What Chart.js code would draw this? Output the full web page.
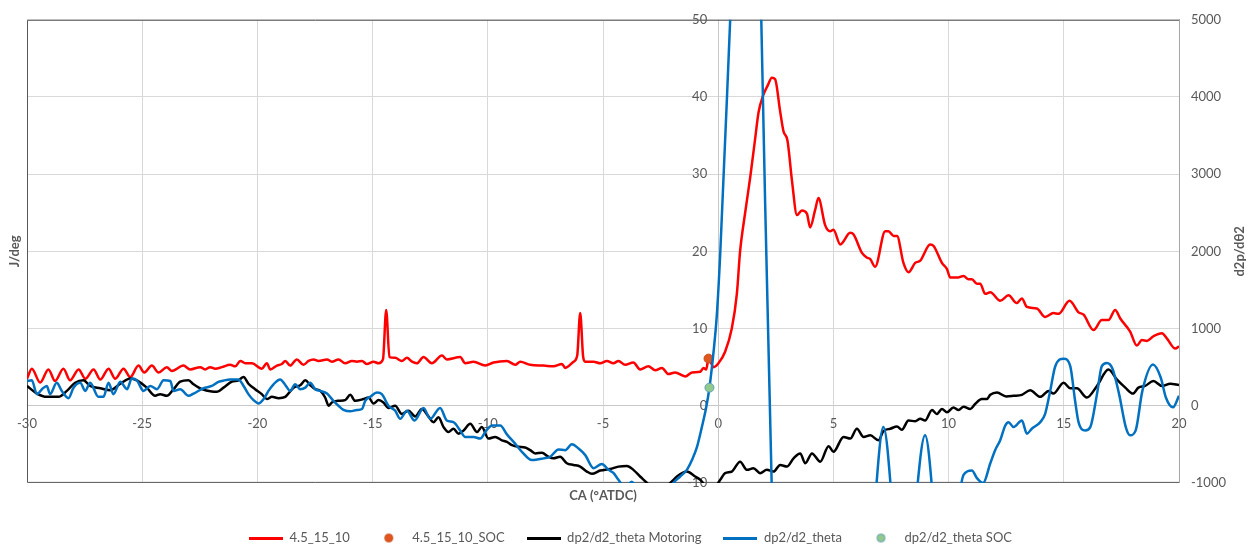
<!DOCTYPE html>
<html>
<head>
<meta charset="utf-8">
<title>Heat release and d2p/dθ2 vs crank angle</title>
<script src="https://cdn.jsdelivr.net/npm/chart.js@4.4.1/dist/chart.umd.min.js"></script>
<style>
  html, body { margin: 0; padding: 0; background: #ffffff; }
  #wrap { width: 1248px; height: 550px; }
</style>
</head>
<body>
<div id="wrap"><canvas id="chart" width="1248" height="550"></canvas></div>
<script>
// Crank angle (°ATDC) traces: apparent heat release rate on the left axis (J/deg),
// second pressure derivative on the right axis, plus start-of-combustion markers.

// Heat release rate, 4.5_15_10 (J/deg)
const heatX = [-30, -29.79, -29.43, -29.07, -28.78, -28.42, -28.13, -27.76, -27.47, -27.11, -26.82, -26.46, -26.17, -25.81, -25.52, -25.16, -24.91, -24.58, -24.29, -23.93, -23.71, -23.21, -22.92, -22.48, -22.27, -22.05, -21.83, -21.54, -21.18, -20.96, -20.74, -20.53, -20.24, -19.81, -19.59, -19.44, -19.15, -18.94, -18.79, -18.58, -18.29, -18.0, -17.78, -17.57, -17.35, -16.98, -16.77, -16.48, -16.19, -15.90, -15.68, -15.46, -15.25, -14.96, -14.74, -14.55, -14.41, -14.27, -14.02, -13.73, -13.51, -13.29, -13.08, -12.79, -12.43, -11.99, -11.78, -11.20, -10.98, -10.62, -10.11, -9.75, -9.17, -8.81, -8.59, -8.16, -7.58, -7.15, -6.78, -6.64, -6.28, -6.12, -5.99, -5.86, -5.77, -5.41, -5.12, -4.83, -4.55, -4.33, -4.04, -3.68, -3.39, -3.03, -2.73, -2.44, -2.16, -1.87, -1.43, -1.14, -0.78, -0.64, -0.52, -0.42, -0.20, 0.01, 0.30, 0.59, 0.81, 0.95, 1.17, 1.39, 1.60, 1.75, 1.95, 2.15, 2.33, 2.47, 2.69, 2.83, 3.01, 3.20, 3.42, 3.63, 3.85, 3.99, 4.21, 4.35, 4.64, 4.86, 5.00, 5.30, 5.73, 5.87, 6.24, 6.45, 6.60, 6.81, 7.25, 7.39, 7.61, 7.76, 8.04, 8.26, 8.55, 8.77, 9.20, 9.35, 9.71, 9.93, 10.07, 10.36, 10.65, 10.86, 11.01, 11.23, 11.37, 11.59, 11.81, 12.24, 12.60, 12.96, 13.18, 13.40, 13.83, 14.19, 14.55, 14.77, 15.25, 15.64, 15.86, 16.29, 16.65, 16.94, 17.23, 17.45, 17.88, 18.17, 18.39, 18.61, 18.89, 19.26, 19.48, 19.84, 20.0];
const heatY = [3.5, 4.8, 3.0, 4.7, 3.2, 4.8, 3.3, 4.7, 3.5, 4.7, 3.4, 4.8, 3.5, 4.8, 3.7, 5.2, 4.3, 5.2, 4.3, 5.0, 4.5, 5.2, 4.7, 5.0, 4.7, 5.0, 4.8, 5.0, 5.3, 5.1, 5.8, 5.5, 5.5, 4.8, 5.5, 4.7, 5.2, 5.4, 5.8, 5.2, 6.0, 5.3, 5.8, 6.0, 5.8, 6.0, 5.7, 6.0, 5.5, 5.8, 5.7, 5.8, 5.4, 5.7, 5.5, 6.0, 12.4, 6.3, 6.2, 5.8, 6.2, 5.7, 5.5, 6.3, 5.5, 6.5, 6.0, 6.3, 5.5, 5.7, 5.2, 5.6, 5.8, 5.3, 5.7, 5.3, 5.2, 5.1, 5.4, 4.9, 5.7, 6.5, 12.0, 6.3, 5.7, 5.7, 5.5, 5.8, 5.5, 5.8, 5.3, 5.6, 4.7, 5.1, 4.6, 4.9, 4.1, 4.3, 3.8, 4.3, 4.4, 4.9, 4.7, 6.1, 5.0, 5.5, 7.0, 10.0, 14.5, 20.0, 25.0, 29.6, 34.5, 38.0, 40.2, 41.5, 42.5, 42.3, 38.1, 35.6, 34.3, 29.2, 24.7, 25.3, 24.9, 23.1, 25.4, 26.9, 23.4, 22.6, 22.8, 20.9, 22.4, 22.2, 19.8, 19.2, 19.0, 18.0, 22.6, 22.6, 22.0, 22.0, 18.5, 17.3, 18.5, 18.8, 20.9, 20.7, 18.5, 17.7, 16.6, 16.6, 16.8, 16.4, 16.4, 15.8, 15.8, 14.5, 14.7, 13.6, 14.3, 13.3, 13.9, 12.8, 12.6, 11.5, 12.0, 11.9, 13.6, 12.1, 11.8, 9.8, 11.1, 11.1, 12.4, 11.3, 9.6, 7.8, 8.5, 8.4, 9.0, 9.4, 8.7, 7.4, 7.7];

// Start of combustion on the heat release trace
const heatSocX = [-0.42];
const heatSocY = [6.1];

// Motoring d2p/dθ2
const motorX = [-30, -29.57, -29.14, -28.63, -28.27, -27.91, -27.55, -27.26, -26.82, -26.39, -25.95, -25.52, -25.23, -24.80, -24.44, -24.22, -23.93, -23.64, -23.35, -22.99, -22.77, -22.41, -21.98, -21.75, -21.47, -21.11, -20.82, -20.60, -20.39, -20.10, -19.81, -19.59, -19.37, -19.08, -18.79, -18.43, -18.14, -17.92, -17.71, -17.49, -17.27, -17.06, -16.91, -16.77, -16.48, -16.19, -15.97, -15.76, -15.40, -15.18, -14.96, -14.74, -14.53, -14.31, -14.02, -13.73, -13.44, -13.15, -12.86, -12.57, -12.36, -12.14, -11.92, -11.71, -11.49, -11.27, -11.05, -10.76, -10.47, -10.26, -9.97, -9.68, -9.39, -9.17, -8.95, -8.67, -8.38, -8.16, -7.94, -7.65, -7.37, -7.15, -6.86, -6.57, -6.28, -5.99, -5.70, -5.48, -5.12, -4.69, -4.33, -3.96, -3.68, -3.39, -3.09, -2.65, -2.30, -2.01, -1.79, -1.36, -1.00, -0.78, -0.50, -0.13, 0.09, 0.30, 0.59, 0.95, 1.25, 1.53, 1.82, 2.11, 2.40, 2.69, 2.98, 3.27, 3.56, 3.78, 4.07, 4.43, 4.79, 5.00, 5.44, 5.73, 6.02, 6.31, 6.60, 6.96, 7.17, 7.47, 7.76, 7.97, 8.26, 8.55, 8.77, 8.98, 9.28, 9.49, 9.71, 9.93, 10.21, 10.43, 10.65, 10.94, 11.15, 11.44, 11.66, 11.81, 12.10, 12.50, 12.82, 13.18, 13.54, 13.98, 14.34, 14.55, 14.99, 15.28, 15.57, 16.00, 16.44, 16.94, 17.30, 17.67, 18.00, 18.24, 18.53, 18.89, 19.26, 19.62, 20.0];
const motorY = [256, 157, 115, 115, 192, 298, 329, 256, 226, 201, 285, 354, 329, 234, 128, 150, 128, 214, 311, 329, 278, 214, 183, 180, 234, 311, 329, 371, 285, 214, 150, 86, 115, 98, 115, 234, 265, 329, 269, 214, 192, 106, 0, 42, 64, 73, 141, 64, 86, 106, 29, 73, 42, -29, 0, -106, -64, -140, -42, -141, -213, -150, -277, -341, -298, -362, -320, -234, -341, -277, -426, -405, -448, -469, -512, -533, -541, -576, -618, -610, -661, -682, -661, -746, -767, -789, -853, -882, -840, -820, -789, -780, -831, -917, -1001, -1150, -1060, -981, -917, -853, -917, -959, -1040, -1040, -959, -874, -853, -725, -831, -810, -874, -831, -853, -767, -789, -682, -618, -746, -618, -725, -524, -597, -405, -426, -298, -405, -384, -448, -329, -298, -269, -311, -192, -201, -170, -192, -55, -106, -42, -86, -22, -55, -13, -42, 22, 86, 86, 141, 170, 120, 128, 141, 201, 115, 192, 157, 298, 226, 226, 106, 256, 469, 341, 234, 157, 234, 256, 320, 256, 285, 269];

// Firing d2p/dθ2
const fireX = [-30, -29.79, -29.57, -29.35, -29.14, -29.0, -28.71, -28.49, -28.20, -27.98, -27.69, -27.47, -27.26, -26.90, -26.68, -26.46, -26.25, -25.95, -25.66, -25.45, -25.23, -24.94, -24.65, -24.36, -24.07, -23.78, -23.64, -23.35, -22.99, -22.77, -22.34, -21.98, -21.69, -21.54, -21.18, -20.82, -20.60, -20.39, -20.17, -19.95, -19.73, -19.52, -19.30, -19.01, -18.79, -18.58, -18.36, -18.14, -17.92, -17.71, -17.49, -17.27, -16.98, -16.70, -16.48, -16.26, -15.97, -15.68, -15.46, -15.32, -15.10, -14.81, -14.60, -14.31, -14.02, -13.80, -13.51, -13.18, -12.79, -12.50, -12.07, -11.78, -11.49, -11.20, -10.98, -10.62, -10.33, -10.04, -9.82, -9.46, -9.17, -8.88, -8.52, -8.09, -7.58, -7.29, -6.93, -6.64, -6.35, -6.06, -5.77, -5.41, -5.05, -4.76, -4.55, -4.33, -4.05, -3.75, -3.40, -2.80, -2.30, -1.94, -1.65, -1.36, -1.14, -0.92, -0.71, -0.52, -0.38, -0.20, -0.06, 0.09, 0.52, 1.37, 1.87, 2.32, 2.70, 4.50, 6.20, 6.60, 7.17, 7.75, 8.10, 8.35, 8.98, 9.55, 10.00, 10.40, 10.65, 11.01, 11.23, 11.50, 11.81, 12.02, 12.24, 12.46, 12.60, 12.82, 13.18, 13.40, 13.61, 13.98, 14.19, 14.41, 14.63, 15.00, 15.28, 15.49, 15.64, 15.93, 16.15, 16.44, 16.65, 16.87, 17.11, 17.40, 17.69, 17.88, 18.12, 18.41, 18.87, 19.21, 19.43, 19.74, 20.00];
const fireY = [320, 329, 150, 214, 256, 150, 298, 192, 98, 234, 298, 192, 298, 115, 115, 298, 150, 311, 214, 354, 329, 192, 256, 214, 329, 320, 192, 214, 128, 157, 226, 256, 310, 320, 341, 341, 256, 150, 73, 29, 86, 192, 278, 341, 269, 192, 278, 214, 234, 298, 214, 192, 157, 64, 0, -55, -73, -55, -42, 64, 115, 170, 150, 0, -64, -170, -64, -192, -29, -170, -29, -192, -213, -320, -405, -405, -426, -311, -256, -256, -371, -469, -597, -704, -682, -661, -567, -576, -499, -554, -640, -810, -755, -831, -870, -959, -1060, -985, -1150, -1300, -1200, -1000, -917, -831, -704, -533, -277, -21, 234, 703, 1173, 1982, 5000, 11000, 5000, -1000, -2500, -3000, -2200, -1900, -277, -1900, -2300, -1900, -384, -1900, -2300, -1300, -896, -840, -938, -1005, -746, -576, -448, -256, -213, -277, -192, -362, -298, -213, -106, 192, 512, 610, 512, 64, -213, -320, -277, 150, 512, 554, 482, 150, -277, -384, -320, 192, 533, 362, 106, -21, 128];

// Start of combustion on the firing d2p/dθ2 trace
const fireSocX = [-0.38];
const fireSocY = [234];

// Axis ranges and tick spacing
const caRange = [-30, 20, 5];
const heatRange = [-10, 50, 10];
const d2pRange = [-1000, 5000, 1000];

const FONT = "'Lato', 'Open Sans', 'DejaVu Sans', sans-serif";
const TEXT = '#595959';
const GRID = '#D9D9D9';

const toPoints = (xs, ys) => xs.map((x, i) => ({ x, y: ys[i] }));

// Legend glyphs: short strokes for traces, small discs for markers
function strokeGlyph(color) {
  const c = document.createElement('canvas');
  c.width = 34; c.height = 3;
  const g = c.getContext('2d');
  g.fillStyle = color;
  g.fillRect(0, 0, 34, 3);
  return c;
}
function discGlyph(fill, edge) {
  const c = document.createElement('canvas');
  c.width = 11; c.height = 11;
  const g = c.getContext('2d');
  g.beginPath();
  g.arc(5.5, 5.5, 4, 0, Math.PI * 2);
  g.fillStyle = fill; g.fill();
  g.lineWidth = 1; g.strokeStyle = edge; g.stroke();
  return c;
}

const COLORS = {
  heat: '#FF0000',
  heatSocFill: '#E2561E', heatSocEdge: '#C84A18',
  motor: '#000000',
  fire: '#0070C0',
  fireSocFill: '#92C98C', fireSocEdge: '#5E9FB8'
};

const glyphs = [
  strokeGlyph(COLORS.heat),
  discGlyph(COLORS.heatSocFill, COLORS.heatSocEdge),
  strokeGlyph(COLORS.motor),
  strokeGlyph(COLORS.fire),
  discGlyph(COLORS.fireSocFill, COLORS.fireSocEdge)
];

// Plot frame, left-axis labels beside the x = 0 crossing, and vertical axis titles
const frameAndTitles = {
  id: 'frameAndTitles',
  beforeDatasetsDraw(chart) {
    const { ctx, chartArea: a, scales } = chart;
    ctx.save();
    ctx.strokeStyle = '#595959';
    ctx.lineWidth = 1;
    ctx.beginPath();
    ctx.moveTo(a.right, a.top + 0.5);
    ctx.lineTo(a.left + 0.5, a.top + 0.5);
    ctx.lineTo(a.left + 0.5, a.bottom - 0.5);
    ctx.lineTo(a.right, a.bottom - 0.5);
    ctx.stroke();

    const yScale = scales.y;
    const xCross = scales.x.getPixelForValue(0);
    ctx.fillStyle = TEXT;
    ctx.font = '13px ' + FONT;
    ctx.textAlign = 'right';
    ctx.textBaseline = 'middle';
    yScale.ticks.forEach(t => {
      ctx.fillText(String(t.value), xCross - 11, yScale.getPixelForValue(t.value));
    });
    ctx.restore();
  },
  afterDraw(chart) {
    const { ctx, chartArea: a } = chart;
    const midY = (a.top + a.bottom) / 2;
    ctx.save();
    ctx.fillStyle = TEXT;
    ctx.font = 'bold 13px ' + FONT;
    ctx.textAlign = 'center';
    ctx.textBaseline = 'middle';
    [[a.left - 12, 'J/deg'], [a.right + 61, 'd2p/dθ2']].forEach(([x, label]) => {
      ctx.save();
      ctx.translate(x, midY);
      ctx.rotate(-Math.PI / 2);
      ctx.fillText(label, 0, 0);
      ctx.restore();
    });
    ctx.restore();
  }
};

const tickFont = { family: FONT, size: 13 };

new Chart(document.getElementById('chart'), {
  type: 'line',
  data: {
    datasets: [
      {
        label: '4.5_15_10',
        data: toPoints(heatX, heatY),
        yAxisID: 'y',
        borderColor: COLORS.heat,
        backgroundColor: COLORS.heat,
        borderWidth: 2.5,
        pointRadius: 0,
        cubicInterpolationMode: 'monotone',
        clip: 0,
        order: 5
      },
      {
        label: '4.5_15_10_SOC',
        data: toPoints(heatSocX, heatSocY),
        yAxisID: 'y',
        showLine: false,
        pointRadius: 4.5,
        pointBackgroundColor: COLORS.heatSocFill,
        pointBorderColor: COLORS.heatSocEdge,
        pointBorderWidth: 1,
        order: 4
      },
      {
        label: 'dp2/d2_theta Motoring',
        data: toPoints(motorX, motorY),
        yAxisID: 'y2',
        borderColor: COLORS.motor,
        backgroundColor: COLORS.motor,
        borderWidth: 2.5,
        pointRadius: 0,
        cubicInterpolationMode: 'monotone',
        clip: 0,
        order: 3
      },
      {
        label: 'dp2/d2_theta',
        data: toPoints(fireX, fireY),
        yAxisID: 'y2',
        borderColor: COLORS.fire,
        backgroundColor: COLORS.fire,
        borderWidth: 2.5,
        pointRadius: 0,
        cubicInterpolationMode: 'monotone',
        clip: 0,
        order: 2
      },
      {
        label: 'dp2/d2_theta SOC',
        data: toPoints(fireSocX, fireSocY),
        yAxisID: 'y2',
        showLine: false,
        pointRadius: 4.5,
        pointBackgroundColor: COLORS.fireSocFill,
        pointBorderColor: COLORS.fireSocEdge,
        pointBorderWidth: 1,
        order: 1
      }
    ]
  },
  options: {
    responsive: false,
    animation: false,
    devicePixelRatio: 1,
    events: [],
    layout: { padding: { top: 14, left: 27, right: 14, bottom: -4.5 } },
    scales: {
      x: {
        type: 'linear',
        min: caRange[0], max: caRange[1],
        position: { y: 0 },
        ticks: { stepSize: caRange[2], color: TEXT, font: tickFont, padding: 10, maxRotation: 0, autoSkip: false },
        grid: { color: GRID, lineWidth: 1, drawTicks: false },
        border: { color: '#C8C8C8' }
      },
      xTitle: {
        type: 'linear',
        min: caRange[0], max: caRange[1],
        position: 'bottom',
        ticks: { display: false },
        grid: { display: false, drawTicks: false },
        border: { display: false },
        title: {
          display: true,
          text: 'CA (°ATDC)',
          color: TEXT,
          font: { family: FONT, size: 13, weight: 'bold' },
          padding: { top: 5, bottom: 6 }
        }
      },
      y: {
        type: 'linear',
        min: heatRange[0], max: heatRange[1],
        position: { x: 0 },
        ticks: { stepSize: heatRange[2], display: false },
        grid: { color: GRID, lineWidth: 1, drawTicks: false },
        border: { color: '#C8C8C8' }
      },
      y2: {
        type: 'linear',
        min: d2pRange[0], max: d2pRange[1],
        position: 'right',
        ticks: {
          stepSize: d2pRange[2], color: TEXT, font: tickFont, padding: 12,
          callback: v => String(v)
        },
        grid: { display: false, drawTicks: false },
        border: { color: '#A6A6A6' },
        afterFit(scale) { scale.width = 55; }
      }
    },
    plugins: {
      tooltip: { enabled: false },
      legend: {
        position: 'bottom',
        labels: {
          color: TEXT,
          font: { family: FONT, size: 13 },
          usePointStyle: true,
          pointStyleWidth: 34,
          padding: 22,
          generateLabels(chart) {
            const items = Chart.defaults.plugins.legend.labels.generateLabels(chart);
            items.sort((a, b) => a.datasetIndex - b.datasetIndex);
            items.forEach(it => { it.pointStyle = glyphs[it.datasetIndex]; });
            return items;
          }
        }
      }
    }
  },
  plugins: [frameAndTitles]
});
</script>
</body>
</html>
